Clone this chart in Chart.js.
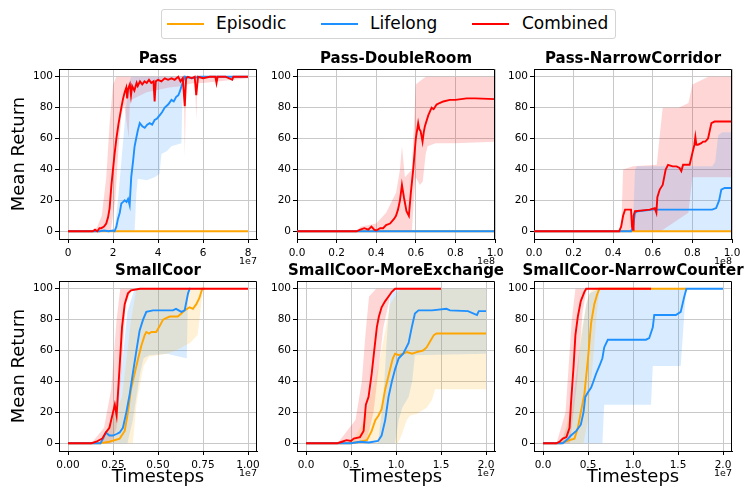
<!DOCTYPE html>
<html>
<head>
<meta charset="utf-8">
<script src="https://cdn.jsdelivr.net/npm/chart.js@4.4.1/dist/chart.umd.min.js"></script>
<style>
  body { margin: 0; width: 748px; height: 488px; background: #fff; position: relative; overflow: hidden; font-family: 'DejaVu Sans', sans-serif; }
  canvas { position: absolute; }
  #legend { position: absolute; left: 161px; top: 9px; width: 453px; height: 28px; border: 1px solid #d4d4d4; border-radius: 3px; background: #fff; }
  .key { position: absolute; top: 13px; width: 37px; height: 2px; }
  .lab { position: absolute; top: 3px; font-size: 17px; line-height: 20px; color: #000; white-space: nowrap; }
</style>
</head>
<body>
<div id="legend"></div>
<script>
// series names / colours
const SERIES = ['Episodic', 'Lifelong', 'Combined'];
const COLORS = ['#FFA500', '#1E90FF', '#FF0000'];
const BAND_COLORS = ['rgba(255,165,0,0.16)', 'rgba(30,144,255,0.17)', 'rgba(255,0,0,0.16)'];

const TITLES = ['Pass', 'Pass-DoubleRoom', 'Pass-NarrowCorridor', 'SmallCoor', 'SmallCoor-MoreExchange', 'SmallCoor-NarrowCounter'];

// tick values / labels
const Y_TICKS = [0, 20, 40, 60, 80, 100];
const Y_LABELS = ['0', '20', '40', '60', '80', '100'];
const X_TICKS_PASS = [0, 2, 4, 6, 8];
const X_LABELS_PASS = ['0', '2', '4', '6', '8'];
const X_TICKS_1E8 = [0, 0.2, 0.4, 0.6, 0.8, 1.0];
const X_LABELS_1E8 = ['0.0', '0.2', '0.4', '0.6', '0.8', '1.0'];
const X_TICKS_SC = [0, 0.25, 0.5, 0.75, 1.0];
const X_LABELS_SC = ['0.00', '0.25', '0.50', '0.75', '1.00'];
const X_TICKS_2 = [0, 0.5, 1.0, 1.5, 2.0];
const X_LABELS_2 = ['0.0', '0.5', '1.0', '1.5', '2.0'];

// ---- Pass (x in 1e7) ----
const passEpisodic = [[0,0],[8,0]];
const passLifelong = [[0,0],[1.4,0],[1.6,0.5],[1.8,0],[2.0,0.5],[2.07,0],[2.15,3],[2.22,8],[2.3,12],[2.37,18],[2.45,19],[2.52,20],[2.6,19],[2.67,21],[2.74,17],[2.81,35],[2.89,45],[2.96,55],[3.03,60],[3.1,65],[3.19,70],[3.3,68],[3.41,67],[3.52,69],[3.63,70],[3.74,69],[3.85,72],[3.96,73],[4.07,75],[4.18,77],[4.3,80],[4.45,82],[4.6,85],[4.7,84],[4.81,87],[4.9,88],[4.96,90],[5.07,95],[5.19,100],[5.5,99],[5.85,100],[8,100]];
const passLifelongLo = [[0,0],[2.96,0],[3.04,25],[3.1,34],[3.5,33],[3.85,35],[4.07,37],[4.15,50],[4.4,52],[4.6,55],[5.04,57],[5.11,100],[8,100]];
const passLifelongHi = [[0,0],[2.07,0],[2.22,20],[2.37,45],[2.52,70],[2.67,95],[2.81,100],[8,100]];
const passCombined = [[0,0],[1.1,0],[1.2,1],[1.3,0],[1.4,2],[1.48,2],[1.6,3],[1.7,5],[1.78,9],[1.85,15],[1.93,30],[2.0,40],[2.07,50],[2.15,60],[2.25,70],[2.37,80],[2.45,86],[2.52,90],[2.59,93],[2.63,86],[2.67,92],[2.75,95],[2.8,88],[2.85,94],[2.95,91],[3.05,96],[3.1,94],[3.2,97],[3.3,95],[3.4,97],[3.5,96],[3.6,98],[3.7,96],[3.8,97],[3.85,84],[3.9,97],[4.0,98],[4.15,97],[4.3,99],[4.45,98],[4.6,99],[4.74,98],[4.9,100],[5.0,97],[5.1,99],[5.19,81],[5.25,99],[5.33,100],[5.5,99],[5.63,100],[5.7,88],[5.78,100],[6.0,99],[6.3,100],[6.55,100],[6.6,96],[6.65,100],[7.0,100],[7.3,98],[7.35,100],[7.6,100],[8,100]];
const passCombinedLo = [[0,0],[1.9,0],[2.1,20],[2.25,55],[2.37,75],[2.5,82],[2.7,60],[2.75,84],[2.8,85],[3.5,90],[4.5,93],[5.15,94],[5.19,48],[5.25,95],[5.65,96],[5.7,72],[5.75,96],[6,96],[8,99]];
const passCombinedHi = [[0,0],[1.1,0],[1.3,3],[1.5,10],[1.7,35],[1.85,70],[2.0,95],[2.15,100],[8,100]];

// ---- Pass-DoubleRoom (x in 1e8) ----
const dblEpisodic = [[0,0],[1,0]];
const dblLifelong = [[0,0],[1,0]];
const dblCombined = [[0,0],[0.3,0],[0.32,1],[0.34,2],[0.36,1],[0.376,3],[0.39,1],[0.40,0.5],[0.42,2],[0.435,2],[0.45,4],[0.47,5],[0.49,8],[0.50,10],[0.51,14],[0.52,20],[0.53,30],[0.535,26],[0.54,22],[0.553,13],[0.565,10],[0.575,25],[0.587,40],[0.60,60],[0.612,70],[0.618,66],[0.624,65],[0.634,58],[0.64,64],[0.646,68],[0.663,75],[0.68,80],[0.69,79],[0.705,82],[0.72,83],[0.739,84],[0.772,85],[0.8,85],[0.857,86],[0.9,86],[1,85.5]];
const dblCombinedLo = [[0,0],[0.58,0],[0.59,20],[0.6,35],[0.62,30],[0.635,32],[0.65,50],[0.66,55],[0.7,57],[0.8,57],[1,58]];
const dblCombinedHi = [[0,0],[0.3,0],[0.32,3],[0.4,5],[0.45,12],[0.5,25],[0.52,40],[0.53,55],[0.545,35],[0.58,40],[0.6,95],[0.62,97],[0.65,100],[1,100]];

// ---- Pass-NarrowCorridor (x in 1e8) ----
const ncEpisodic = [[0,0],[1,0]];
const ncLifelong = [[0,0],[0.49,0],[0.5,3],[0.51,12],[0.525,13],[0.6,14],[0.7,14],[0.8,14],[0.9,14],[0.92,15],[0.935,20],[0.946,27],[0.963,28],[1,28]];
const ncLifelongLo = [[0,0],[1,0]];
const ncLifelongHi = [[0,0],[0.49,0],[0.5,5],[0.51,40],[0.52,42],[0.9,42],[0.915,45],[0.93,62],[0.95,64],[1,64]];
const ncCombined = [[0,0],[0.43,0],[0.44,3],[0.45,10],[0.46,14],[0.48,14],[0.49,14],[0.495,3],[0.50,1],[0.503,10],[0.51,13],[0.55,13.5],[0.584,14],[0.61,15],[0.618,12],[0.623,22],[0.635,27],[0.65,30],[0.665,40],[0.677,43],[0.7,42],[0.72,42],[0.735,41],[0.744,39],[0.753,43],[0.786,43],[0.795,48],[0.81,56],[0.815,61],[0.82,56],[0.828,56],[0.845,57],[0.854,58],[0.865,58],[0.879,60],[0.896,70],[0.912,71],[1,71]];
const ncCombinedLo = [[0,0],[0.64,0],[0.78,12],[0.8,35],[1,35]];
const ncCombinedHi = [[0,0],[0.44,0],[0.45,40],[0.5,42],[0.62,43],[0.635,62],[0.65,80],[0.73,80],[0.78,83],[0.8,95],[0.88,100],[1,100]];

// ---- SmallCoor (x in 1e7) ----
const scEpisodic = [[0,0],[0.18,0],[0.23,1],[0.287,3],[0.315,8],[0.333,20],[0.35,35],[0.37,45],[0.39,55],[0.407,63],[0.426,70],[0.435,72],[0.45,71],[0.463,72],[0.49,72],[0.51,76],[0.528,80],[0.545,81],[0.565,82],[0.59,82],[0.61,82],[0.63,84],[0.648,86],[0.676,88],[0.694,87],[0.713,90],[0.73,94],[0.746,100],[0.76,100]];
const scEpisodicLo = [[0,0],[0.36,0],[0.38,25],[0.40,38],[0.42,50],[0.45,56],[0.55,58],[0.6,60],[0.68,65],[0.72,70],[0.74,90],[0.75,100],[0.76,100]];
const scEpisodicHi = [[0,0],[0.18,0],[0.3,30],[0.35,80],[0.38,100],[0.76,100]];
const scLifelong = [[0,0],[0.18,0],[0.195,3],[0.21,7],[0.23,5],[0.25,5],[0.27,6],[0.287,7],[0.305,10],[0.324,20],[0.343,32],[0.36,45],[0.38,60],[0.398,73],[0.417,80],[0.435,85],[0.472,86],[0.5,86],[0.546,86],[0.583,86],[0.6,87],[0.63,85],[0.648,86],[0.667,97],[0.676,100],[0.68,100]];
const scLifelongLo = [[0,0],[0.33,0],[0.36,15],[0.38,30],[0.40,45],[0.42,55],[0.45,57],[0.55,58],[0.62,56],[0.66,55],[0.667,100],[0.68,100]];
const scLifelongHi = [[0,0],[0.17,0],[0.25,15],[0.3,50],[0.33,85],[0.37,100],[0.68,100]];
const scCombined = [[0,0],[0.13,0],[0.157,1],[0.19,3],[0.21,7],[0.23,10],[0.246,18],[0.26,25],[0.27,18],[0.287,50],[0.30,75],[0.315,90],[0.333,97],[0.35,99],[0.4,100],[1,100]];
const scCombinedLo = [[0,0],[0.24,0],[0.27,10],[0.30,50],[0.32,90],[0.35,99],[0.4,100],[1,100]];
const scCombinedHi = [[0,0],[0.13,0],[0.2,10],[0.24,35],[0.27,80],[0.29,100],[1,100]];

// ---- SmallCoor-MoreExchange (x in 1e7) ----
const meEpisodic = [[0,0],[0.5,0],[0.6,1],[0.677,2],[0.73,8],[0.77,15],[0.806,18],[0.84,22],[0.88,35],[0.935,48],[0.965,55],[0.99,58],[1.03,57],[1.08,58],[1.12,59],[1.18,58],[1.23,59],[1.3,60],[1.34,62],[1.38,66],[1.42,70],[1.45,71],[1.6,71],[1.8,71],[2.0,71]];
const meEpisodicLo = [[0,0],[1.02,0],[1.06,5],[1.12,15],[1.157,18],[1.23,19],[1.34,23],[1.4,28],[1.434,35],[2,35]];
const meEpisodicHi = [[0,0],[0.5,0],[0.65,15],[0.806,50],[0.935,90],[1.01,97],[1.05,100],[2,100]];
const meLifelong = [[0,0],[0.5,0],[0.6,1],[0.7,0.5],[0.8,1.5],[0.84,5],[0.88,15],[0.917,30],[0.954,40],[0.99,48],[1.03,55],[1.08,58],[1.14,65],[1.175,75],[1.21,84],[1.25,86],[1.4,86],[1.56,87],[1.6,86],[1.8,85.5],[1.9,83],[1.92,85.5],[2,85.5]];
const meLifelongLo = [[0,0],[0.99,0],[1.03,15],[1.07,23],[1.14,30],[1.18,40],[1.21,57],[2,58]];
const meLifelongHi = [[0,0],[0.8,0],[0.86,30],[0.9,70],[0.935,95],[0.97,98],[1.05,100],[2,100]];
const meCombined = [[0,0],[0.35,0],[0.4,1],[0.45,2],[0.5,1.5],[0.53,3],[0.6,4],[0.64,8],[0.665,25],[0.695,30],[0.73,45],[0.758,60],[0.787,75],[0.81,82],[0.84,88],[0.88,92],[0.917,95],[0.954,98],[0.99,100],[1.5,100]];
const meCombinedLo = [[0,0],[0.66,0],[0.71,10],[0.75,20],[0.79,40],[0.86,75],[0.935,95],[0.99,100],[1.5,100]];
const meCombinedHi = [[0,0],[0.35,0],[0.55,15],[0.62,40],[0.66,70],[0.7,95],[0.78,100],[1.5,100]];

// ---- SmallCoor-NarrowCounter (x in 1e7) ----
const ncoEpisodic = [[0,0],[0.2,0],[0.295,2],[0.35,3],[0.387,10],[0.42,20],[0.46,32],[0.5,55],[0.535,78],[0.57,90],[0.6,96],[0.627,100],[1.59,100]];
const ncoEpisodicLo = [[0,0],[0.45,0],[0.5,15],[0.55,50],[0.6,85],[0.63,100],[1.59,100]];
const ncoEpisodicHi = [[0,0],[0.2,0],[0.35,30],[0.42,70],[0.5,95],[0.55,100],[1.59,100]];
const ncoLifelong = [[0,0],[0.22,0],[0.28,3],[0.31,5],[0.37,8],[0.42,12],[0.45,20],[0.47,30],[0.5,33],[0.535,36],[0.56,40],[0.59,45],[0.627,50],[0.66,55],[0.68,62],[0.72,67],[0.775,67],[0.886,67],[1.03,67],[1.144,67],[1.18,68],[1.22,75],[1.236,83],[1.33,83],[1.476,83],[1.53,85],[1.57,95],[1.594,100],[2,100]];
const ncoLifelongLo = [[0,0],[0.66,0],[0.68,25],[1.2,25],[1.22,50],[1.53,50],[1.59,100],[2,100]];
const ncoLifelongHi = [[0,0],[0.2,0],[0.295,15],[0.406,60],[0.48,90],[0.52,97],[0.627,100],[2,100]];
const ncoCombined = [[0,0],[0.15,0],[0.185,1],[0.22,3],[0.26,4],[0.295,10],[0.31,25],[0.34,50],[0.36,70],[0.387,82],[0.42,92],[0.46,98],[0.48,100],[1.2,100]];
const ncoCombinedLo = [[0,0],[0.3,0],[0.38,40],[0.44,85],[0.48,98],[0.5,100],[1.2,100]];
const ncoCombinedHi = [[0,0],[0.15,0],[0.25,20],[0.32,80],[0.36,100],[1.2,100]];

Chart.defaults.font.family = "'DejaVu Sans', sans-serif";
Chart.defaults.color = '#000';

// legend
const legend = document.getElementById('legend');
const keyX = [5, 159, 310], labX = [54, 208, 360];
SERIES.forEach(function(name, i) {
    const k = document.createElement('div');
    k.className = 'key'; k.style.left = keyX[i] + 'px'; k.style.background = COLORS[i];
    const t = document.createElement('div');
    t.className = 'lab'; t.style.left = labX[i] + 'px'; t.textContent = name;
    legend.appendChild(k); legend.appendChild(t);
});

// layout of the 6 panels (canvas boxes)
const colLeft = [0, 257, 494], colYW = [59, 40, 40], colRight = [14, 14, 16];
const rowTop = [50, 262], rowXH = [30, 37];

const panels = [
    { lines: [passEpisodic, passLifelong, passCombined], bands: [null, [passLifelongLo, passLifelongHi], [passCombinedLo, passCombinedHi]], xMin: -0.4, xMax: 8.4, xTicks: X_TICKS_PASS, xLabels: X_LABELS_PASS, offset: '1e7' },
    { lines: [dblEpisodic, dblLifelong, dblCombined], bands: [null, null, [dblCombinedLo, dblCombinedHi]], xMin: 0, xMax: 1, xTicks: X_TICKS_1E8, xLabels: X_LABELS_1E8, offset: '1e8' },
    { lines: [ncEpisodic, ncLifelong, ncCombined], bands: [null, [ncLifelongLo, ncLifelongHi], [ncCombinedLo, ncCombinedHi]], xMin: 0, xMax: 1, xTicks: X_TICKS_1E8, xLabels: X_LABELS_1E8, offset: '1e8' },
    { lines: [scEpisodic, scLifelong, scCombined], bands: [[scEpisodicLo, scEpisodicHi], [scLifelongLo, scLifelongHi], [scCombinedLo, scCombinedHi]], xMin: -0.05, xMax: 1.05, xTicks: X_TICKS_SC, xLabels: X_LABELS_SC, offset: '1e7' },
    { lines: [meEpisodic, meLifelong, meCombined], bands: [[meEpisodicLo, meEpisodicHi], [meLifelongLo, meLifelongHi], [meCombinedLo, meCombinedHi]], xMin: -0.1, xMax: 2.1, xTicks: X_TICKS_2, xLabels: X_LABELS_2, offset: '1e7' },
    { lines: [ncoEpisodic, ncoLifelong, ncoCombined], bands: [[ncoEpisodicLo, ncoEpisodicHi], [ncoLifelongLo, ncoLifelongHi], [ncoCombinedLo, ncoCombinedHi]], xMin: -0.1, xMax: 2.1, xTicks: X_TICKS_2, xLabels: X_LABELS_2, offset: '1e7' }
];

function pts(arr) { return arr.map(function(p) { return { x: p[0], y: p[1] }; }); }

panels.forEach(function(p, idx) {
    const row = Math.floor(idx / 3), col = idx % 3;
    const yW = colYW[col], xH = rowXH[row];
    const canvas = document.createElement('canvas');
    const w = yW + 198 + colRight[col], h = 19 + 170 + xH;
    canvas.width = w; canvas.height = h;
    canvas.style.left = colLeft[col] + 'px'; canvas.style.top = rowTop[row] + 'px';
    canvas.style.width = w + 'px'; canvas.style.height = h + 'px';
    document.body.appendChild(canvas);

    const datasets = [];
    p.bands.forEach(function(b, i) {
        if (!b) return;
        datasets.push({ data: pts(b[0]), borderColor: 'transparent', borderWidth: 0, pointRadius: 0, fill: false, order: 10 });
        datasets.push({ data: pts(b[1]), borderColor: 'transparent', borderWidth: 0, pointRadius: 0, fill: '-1', backgroundColor: BAND_COLORS[i], order: 10 });
    });
    p.lines.forEach(function(l, i) {
        datasets.push({ label: SERIES[i], data: pts(l), borderColor: COLORS[i], borderWidth: 1.9, pointRadius: 0, tension: 0, fill: false, order: 2 - i });
    });

    const decor = {
        id: 'decor',
        afterDraw: function(chart) {
            const ctx = chart.ctx, a = chart.chartArea;
            ctx.save();
            ctx.strokeStyle = '#000'; ctx.lineWidth = 1;
            ctx.beginPath();
            ctx.moveTo(Math.round(a.left) + 0.5, Math.round(a.top) + 0.5);
            ctx.lineTo(Math.round(a.right) - 0.5, Math.round(a.top) + 0.5);
            ctx.lineTo(Math.round(a.right) - 0.5, Math.round(a.bottom));
            ctx.stroke();
            ctx.fillStyle = '#000';
            ctx.font = 'bold 15px "DejaVu Sans"';
            ctx.textAlign = 'center'; ctx.textBaseline = 'middle';
            ctx.fillText(TITLES[idx], (a.left + a.right) / 2, a.top - 10);
            ctx.font = '9.5px "DejaVu Sans"';
            ctx.textAlign = 'right';
            ctx.fillText(p.offset, a.right, a.bottom + 23);
            ctx.restore();
        }
    };

    const gridOpts = { color: '#c9c9c9', lineWidth: 1, tickColor: '#000', tickLength: 4 };
    new Chart(canvas, {
        type: 'line',
        data: { datasets: datasets },
        options: {
            responsive: false, animation: false, events: [],
            layout: { padding: { top: 19, right: colRight[col], bottom: 0, left: 0 } },
            plugins: { legend: { display: false }, tooltip: { enabled: false }, filler: { drawTime: 'beforeDatasetsDraw' } },
            scales: {
                x: {
                    type: 'linear', min: p.xMin, max: p.xMax,
                    afterBuildTicks: function(s) { s.ticks = p.xTicks.map(function(v) { return { value: v }; }); },
                    afterFit: function(s) { s.height = xH; },
                    ticks: { callback: function(v, i) { return p.xLabels[i]; }, autoSkip: false, maxRotation: 0, padding: 4, font: { size: 10.5 }, color: '#000' },
                    grid: gridOpts,
                    border: { color: '#000', width: 1 },
                    title: { display: row === 1, text: 'Timesteps', font: { size: 18 }, padding: { top: 0, bottom: 0 }, color: '#000' }
                },
                y: {
                    type: 'linear', min: -5, max: 105,
                    afterBuildTicks: function(s) { s.ticks = Y_TICKS.map(function(v) { return { value: v }; }); },
                    afterFit: function(s) { s.width = yW; },
                    ticks: { callback: function(v, i) { return Y_LABELS[i]; }, autoSkip: false, padding: 2, font: { size: 10.5 }, color: '#000' },
                    grid: gridOpts,
                    border: { color: '#000', width: 1 },
                    title: { display: col === 0, text: 'Mean Return', font: { size: 18 }, padding: { top: 9, bottom: 0 }, color: '#000' }
                }
            }
        },
        plugins: [decor]
    });
});
</script>
</body>
</html>
